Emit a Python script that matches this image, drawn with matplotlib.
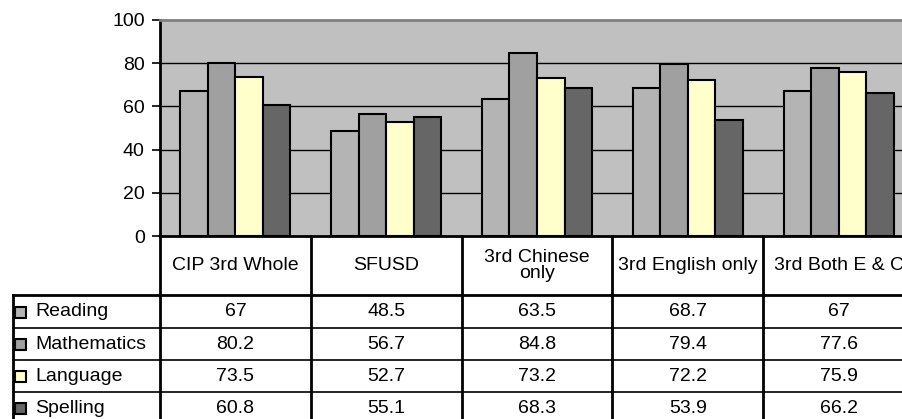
import matplotlib
matplotlib.use("Agg")
import matplotlib.pyplot as plt
from matplotlib.lines import Line2D
from matplotlib.patches import Rectangle
import matplotlib.transforms as mtransforms

categories = ["CIP 3rd Whole", "SFUSD", "3rd Chinese\nonly", "3rd English only", "3rd Both E & C"]
series_names = ["Reading", "Mathematics", "Language", "Spelling"]
reading = [67, 48.5, 63.5, 68.7, 67]
mathematics = [80.2, 56.7, 84.8, 79.4, 77.6]
language = [73.5, 52.7, 73.2, 72.2, 75.9]
spelling = [60.8, 55.1, 68.3, 53.9, 66.2]
value_labels = [
    ["67", "48.5", "63.5", "68.7", "67"],
    ["80.2", "56.7", "84.8", "79.4", "77.6"],
    ["73.5", "52.7", "73.2", "72.2", "75.9"],
    ["60.8", "55.1", "68.3", "53.9", "66.2"],
]
yticks = [0, 20, 40, 60, 80, 100]

colors = ["#B4B4B4", "#A0A0A0", "#FFFFCC", "#666666"]
FONT = "Liberation Sans"
FS = 14

W, H = 902, 419
fig = plt.figure(figsize=(W / 100, H / 100), dpi=100)
fig.patch.set_facecolor("white")

ax_left, ax_top, ax_bottom, ax_right = 160, 20, 236, 914
ax = fig.add_axes([ax_left / W, (H - ax_bottom) / H, (ax_right - ax_left) / W, (ax_bottom - ax_top) / H])
ax.set_facecolor("#C0C0C0")
ax.set_xlim(-0.5, len(categories) - 0.5)
ax.set_ylim(0, 100)

series = [reading, mathematics, language, spelling]
bw = 0.1824
xs = list(range(len(categories)))
for k, vals in enumerate(series):
    off = (k - 1.5) * bw
    ax.bar([x + off for x in xs], vals, width=bw, color=colors[k], edgecolor="black",
           linewidth=1.5, zorder=3)

ax.set_yticks(yticks)
ax.set_yticklabels([str(t) for t in yticks], fontname=FONT, fontsize=FS)
ax.set_xticks([])
for t in yticks[1:-1]:
    ax.axhline(t, color="black", linewidth=1.0, zorder=1)
ax.tick_params(axis="y", direction="out", length=6, width=1.2, pad=5, colors="black")
ax.spines["right"].set_visible(False)
ax.spines["top"].set_color("#808080")
ax.spines["top"].set_linewidth(2)
ax.spines["left"].set_color("black")
ax.spines["left"].set_linewidth(2)
ax.spines["bottom"].set_color("black")
ax.spines["bottom"].set_linewidth(2)

# Data table below the axes
fig_y = lambda ypix: (H - ypix) / H
fig_x = lambda xpix: xpix / W
tr = mtransforms.blended_transform_factory(ax.transData, fig.transFigure)
trf = fig.transFigure

header_bottom = 295
row_edges = [295, 328, 360, 392, 424]

fig.add_artist(Line2D([fig_x(13), 1.0], [fig_y(header_bottom)] * 2, color="black", lw=2, transform=trf))
for yp in row_edges[1:-1]:
    fig.add_artist(Line2D([fig_x(13), 1.0], [fig_y(yp)] * 2, color="black", lw=1.2, transform=trf))
fig.add_artist(Line2D([fig_x(13)] * 2, [fig_y(header_bottom), 0], color="black", lw=2, transform=trf))
for b in range(len(categories) + 1):
    xb = b - 0.5
    fig.add_artist(Line2D([xb, xb], [fig_y(ax_bottom), 0], color="black", lw=2, transform=tr, clip_on=False))

for i, c in enumerate(categories):
    fig.text(i, fig_y((ax_bottom + header_bottom) / 2), c, transform=tr, ha="center", va="center",
             fontname=FONT, fontsize=FS, linespacing=1.0)

for r, name in enumerate(series_names):
    yc = fig_y((row_edges[r] + row_edges[r + 1]) / 2)
    fig.add_artist(Rectangle((fig_x(15), yc - 6 / H), 11 / W, 11 / H, transform=trf,
                             facecolor=colors[r], edgecolor="black", lw=1.5))
    fig.text(fig_x(35), yc, name, transform=trf, ha="left", va="center", fontname=FONT, fontsize=FS)
    for i in range(len(categories)):
        fig.text(i, yc, value_labels[r][i], transform=tr, ha="center", va="center",
                 fontname=FONT, fontsize=FS)

fig.savefig("out.png", dpi=100)
